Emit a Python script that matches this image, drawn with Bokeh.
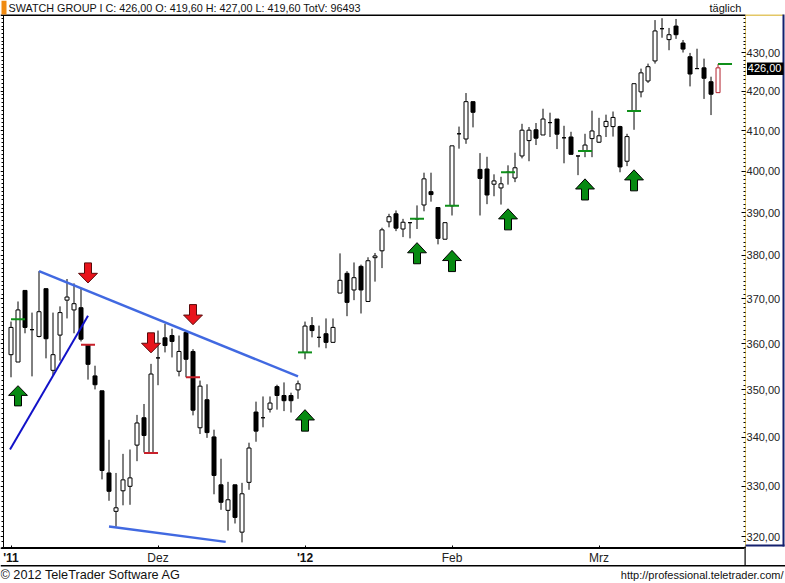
from bokeh.plotting import figure
from bokeh.models import ColumnDataSource, FixedTicker, LogAxis, LinearAxis, Label, BoxAnnotation
from bokeh.embed import file_html
from bokeh.resources import INLINE

FONT = "Liberation Sans"

# daily candles
opens = [357.6, 356.0, 371.9, 363.1, 361.6, 372.3, 354.2, 361.9, 369.7, 367.5, 368.0, 359.8, 353.0, 349.8, 332.7, 325.0, 329.1, 330.0, 338.4, 344.1,
	336.8, 356.9, 361.3, 361.8, 354.0, 362.5, 358.3, 342.0, 347.9, 340.1, 330.3, 325.2, 330.3, 320.9, 330.8, 345.3, 344.1, 345.9, 350.7, 348.8,
	348.8, 350.0, 358.1, 364.0, 361.4, 362.2, 360.3, 371.3, 375.8, 372.0, 377.4, 369.4, 379.4, 381.0, 387.8, 389.7, 386.1, 387.6, 388.5, 391.8,
	395.0, 391.2, 383.7, 391.6, 409.2, 407.9, 417.3, 400.4, 400.5, 396.8, 395.9, 399.7, 398.3, 403.7, 407.5, 410.2, 408.9, 412.0, 412.9, 408.2,
	408.4, 403.7, 404.9, 408.0, 407.1, 411.0, 411.0, 411.0, 402.4, 414.9, 419.8, 422.6, 427.8, 436.3, 433.4, 437.0, 432.5, 428.9, 425.8, 426.0,
	422.4, 419.6]
highs = [364.9, 369.4, 371.9, 366.9, 376.3, 372.3, 366.9, 368.3, 374.5, 373.5, 372.3, 359.8, 355.2, 349.8, 339.5, 332.7, 336.6, 337.5, 344.7, 347.0,
	355.6, 362.9, 364.4, 363.3, 361.8, 362.9, 358.8, 352.0, 351.2, 341.6, 335.6, 330.9, 330.3, 330.7, 338.9, 347.5, 348.6, 348.6, 351.1, 351.6,
	349.4, 352.0, 364.9, 365.9, 364.0, 365.6, 365.6, 380.4, 376.3, 378.3, 377.8, 379.5, 380.5, 386.4, 389.7, 390.5, 388.5, 387.7, 391.7, 399.6,
	399.6, 391.2, 387.6, 406.2, 411.0, 419.5, 417.3, 404.4, 403.5, 399.2, 398.6, 401.4, 404.5, 411.7, 410.9, 411.9, 415.5, 414.5, 412.9, 411.2,
	409.7, 403.7, 409.2, 415.0, 413.2, 414.0, 414.8, 411.2, 409.2, 421.9, 425.8, 427.1, 438.6, 439.1, 436.5, 438.9, 433.3, 429.9, 431.0, 428.4,
	423.7, 427.0]
lows = [352.7, 356.0, 362.3, 352.9, 361.4, 356.8, 353.1, 356.3, 365.6, 362.3, 360.5, 352.2, 350.1, 331.4, 327.1, 322.0, 326.2, 326.3, 335.1, 336.9,
	336.8, 351.0, 358.1, 357.0, 352.9, 352.7, 344.6, 340.7, 339.9, 328.4, 325.3, 321.2, 322.6, 318.9, 329.3, 339.1, 342.1, 345.2, 345.8, 345.5,
	345.2, 348.1, 356.6, 361.4, 359.2, 359.0, 360.3, 371.3, 366.1, 369.7, 366.7, 369.4, 373.9, 377.0, 386.5, 385.6, 384.2, 383.9, 386.1, 390.3,
	392.6, 382.5, 383.7, 389.3, 405.5, 406.7, 410.8, 389.3, 392.0, 393.9, 391.9, 396.7, 397.3, 403.1, 402.4, 406.4, 408.9, 408.4, 405.4, 401.9,
	404.1, 399.0, 403.4, 403.4, 406.9, 408.4, 408.5, 399.7, 401.2, 410.2, 418.4, 422.1, 427.1, 433.9, 430.6, 433.6, 430.0, 421.2, 425.8, 418.0,
	413.9, 419.6]
closes = [363.6, 367.5, 363.6, 363.1, 367.1, 361.1, 357.6, 366.9, 370.4, 368.9, 361.0, 355.5, 351.1, 333.2, 329.0, 325.7, 331.3, 331.7, 343.0, 340.4,
	353.4, 356.9, 359.6, 360.5, 358.3, 356.6, 345.7, 350.8, 341.0, 332.2, 326.8, 327.3, 323.8, 328.5, 337.8, 341.3, 344.1, 347.2, 348.8, 347.7,
	347.7, 351.3, 363.9, 362.9, 361.4, 360.3, 363.6, 374.2, 369.2, 374.8, 372.0, 378.7, 379.8, 385.9, 389.0, 386.3, 387.7, 387.6, 388.5, 398.1,
	394.3, 383.9, 387.6, 406.2, 409.2, 417.3, 414.6, 398.2, 394.2, 397.6, 396.9, 399.7, 400.8, 410.1, 410.1, 408.1, 412.9, 412.0, 409.1, 408.2,
	404.1, 403.7, 406.4, 409.9, 408.7, 412.3, 413.3, 401.0, 408.5, 421.9, 424.7, 426.3, 435.7, 436.3, 434.7, 434.7, 430.9, 424.4, 425.8, 423.3,
	419.2, 426.0]

# short signal levels next to the candles
green_start = [0, 41, 57, 62, 70, 81, 88, 101]
green_end = [2, 43, 59, 64, 72, 83, 90, 103]
green_level = [365.4, 358.1, 388.5, 391.6, 399.7, 404.9, 414.9, 427.0]
red_start = [10, 19, 25]
red_end = [12, 21, 27]
red_level = [359.8, 336.8, 352.7]

# arrows: candle, price at the tip, price at the tail
up_at = [1, 42, 58, 63, 71, 82, 89]
up_tip = [350.9, 345.8, 382.9, 381.1, 390.9, 398.1, 400.3]
up_tail = [346.6, 341.3, 378.0, 376.2, 385.9, 393.0, 395.2]
down_at = [11, 20, 26]
down_tip = [373.6, 358.0, 364.2]
down_tail = [378.2, 362.4, 368.7]

# hand drawn trend lines
upper_x = [4, 41]
upper_y = [376.3, 352.9]
lower_x = [14, 30.67]
lower_y = [322.0, 319.0]
steep_x = [-0.14, 11]
steep_y = [337.5, 366.2]

month_ticks = [21, 63, 84]
month_labels = ["Dez", "Feb", "Mrz"]
year_ticks = [0, 42]
year_labels = ["'11", "'12"]
price_ticks = list(range(320, 440, 10))
unit_ticks = list(range(318, 440))

# the chart pane inside the window, the frame itself fills the whole picture
PANE_LEFT = -1.0714
PANE_RIGHT = 104.93
PANE_TOP = 439.82
PANE_BOTTOM = 318.0


def arrow_shape(at, tip, tail):
	neck = tip * (tail / tip) ** 0.48
	xs = [at, at + 1.35, at + 0.5, at + 0.5, at - 0.5, at - 0.5, at - 1.35]
	ys = [tip, neck, neck, tail, tail, neck, neck]
	return xs, ys


def rule(p, left, top, right, bottom, color):
	p.add_layout(BoxAnnotation(left=left, right=right, top=top, bottom=bottom,
		left_units="canvas", right_units="canvas", top_units="canvas", bottom_units="canvas",
		fill_color=color, fill_alpha=1, line_color=None, level="overlay"))


def text(p, x, y, s, align="left", size="11px"):
	p.add_layout(Label(x=x, y=y, x_units="canvas", y_units="canvas", text=s, text_font=FONT,
		text_font_size=size, text_color="#111111", text_align=align, text_baseline="middle"))


p = figure(width=785, height=583, x_range=(-1.5, 110.64), y_range=(311.0, 443.87),
	y_axis_type="log", x_axis_location="below", y_axis_location="right",
	output_backend="svg", toolbar_location=None,
	min_border_left=0, min_border_right=0, min_border_top=0, min_border_bottom=0,
	background_fill_color="white", border_fill_color="white", outline_line_color=None)
p.grid.visible = False

ax = p.yaxis[0]
ax.fixed_location = PANE_RIGHT
ax.bounds = (PANE_BOTTOM, PANE_TOP)
ax.ticker = FixedTicker(ticks=price_ticks, minor_ticks=unit_ticks)
ax.major_label_overrides = {t: "%d,00" % t for t in price_ticks}
ax.major_label_text_font = FONT
ax.major_label_text_font_size = "11px"
ax.major_label_text_color = "#222222"
ax.major_label_standoff = 1
ax.axis_line_color = "#e3c766"
ax.major_tick_in = 4
ax.major_tick_out = 0
ax.minor_tick_in = 2
ax.minor_tick_out = 0
ax.major_tick_line_color = "black"
ax.minor_tick_line_color = "black"

left_ax = LogAxis(ticker=FixedTicker(ticks=price_ticks, minor_ticks=unit_ticks),
	fixed_location=PANE_LEFT, bounds=(PANE_BOTTOM, PANE_TOP),
	major_label_text_color=None, major_label_text_font_size="1px", major_label_standoff=0,
	major_tick_in=0, major_tick_out=3, minor_tick_in=0, minor_tick_out=2, axis_line_color="black")
left_ax.major_label_overrides = {t: "" for t in price_ticks}
p.add_layout(left_ax, "left")

xa = p.xaxis[0]
xa.fixed_location = PANE_BOTTOM
xa.bounds = (PANE_LEFT, PANE_RIGHT)
xa.ticker = FixedTicker(ticks=month_ticks)
xa.major_label_overrides = dict(zip(month_ticks, month_labels))
xa.major_label_text_font = FONT
xa.major_label_text_font_size = "12px"
xa.major_label_text_color = "#222222"
xa.major_label_standoff = 4
xa.axis_line_color = "black"
xa.major_tick_in = 2
xa.major_tick_out = 0
xa.minor_tick_line_color = None

year_ax = LinearAxis(ticker=FixedTicker(ticks=year_ticks), fixed_location=PANE_BOTTOM, bounds=(PANE_LEFT, PANE_RIGHT),
	major_label_text_font=FONT, major_label_text_font_size="12px", major_label_text_font_style="bold",
	major_label_text_color="#111111", major_label_standoff=4, axis_line_color=None,
	major_tick_in=2, major_tick_out=0, minor_tick_line_color=None)
year_ax.major_label_overrides = dict(zip(year_ticks, year_labels))
p.add_layout(year_ax, "below")

index = list(range(len(opens)))
fills = ["white" if c >= o else "black" for o, c in zip(opens, closes)]
edges = ["black"] * len(opens)
fills[-1] = "white"
edges[-1] = "#b3202c"
source = ColumnDataSource(dict(i=index, open=opens, high=highs, low=lows, close=closes,
	fill=fills, edge=edges,
	top=[max(o, c) for o, c in zip(opens, closes)], bottom=[min(o, c) for o, c in zip(opens, closes)]))

p.segment(x0="i", y0="low", x1="i", y1="high", line_color="edge", line_width=1, source=source)
p.vbar(x="i", top="top", bottom="bottom", width=4 / 7, fill_color="fill", line_color="edge", line_width=1, source=source)

p.segment(x0=green_start, y0=green_level, x1=green_end, y1=green_level, line_color="#0f8f1a", line_width=2)
p.segment(x0=red_start, y0=red_level, x1=red_end, y1=red_level, line_color="#c8202a", line_width=2)

p.line(upper_x, upper_y, line_color="#4169e1", line_width=2.5)
p.line(lower_x, lower_y, line_color="#4169e1", line_width=2.5)
p.line(steep_x, steep_y, line_color="#1212c8", line_width=2)

up_shapes = [arrow_shape(*a) for a in zip(up_at, up_tip, up_tail)]
p.patches([s[0] for s in up_shapes], [s[1] for s in up_shapes], fill_color="#078a12", line_color="black", line_width=1)
down_shapes = [arrow_shape(*a) for a in zip(down_at, down_tip, down_tail)]
p.patches([s[0] for s in down_shapes], [s[1] for s in down_shapes], fill_color="#e8141c", line_color="#5a0a0a", line_width=1)

# frame pieces of the terminal window
rule(p, 0, 14, 745, 15.5, "black")
rule(p, 1, 0, 6, 14, "#f08a10")
rule(p, 745, 14, 783, 15.5, "#e3c766")
rule(p, 782, 14, 784, 546, "#14206e")
rule(p, 745, 544, 784, 546, "#14206e")
rule(p, 0, 547, 744, 548.5, "black")
rule(p, 0, 564.5, 785, 566, "black")
rule(p, 744, 546, 745.2, 565, "black")

# last price box on the axis
rule(p, 746.5, 62, 783, 74.5, "black")
last_price = Label(x=105.25, y=closes[-1], text="426,00", text_font=FONT, text_font_size="11px", text_color="white",
	text_align="left", text_baseline="middle", level="overlay")
p.add_layout(last_price)

text(p, 8, 7.5, "SWATCH GROUP I C: 426,00 O: 419,60 H: 427,00 L: 419,60 TotV: 96493", size="10.8px")
text(p, 709, 7.5, "täglich")
text(p, 0, 574, "© 2012 TeleTrader Software AG", size="12.7px")
text(p, 783, 574, "http://professional.teletrader.com/", align="right", size="11px")

open("out.html", "w").write(file_html(p, INLINE))
